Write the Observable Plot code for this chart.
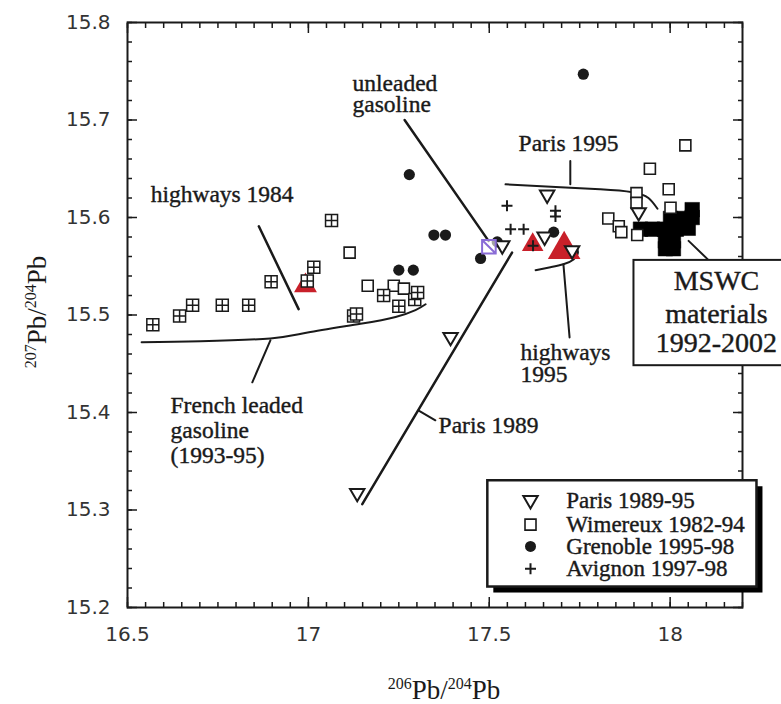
<!DOCTYPE html>
<html><head><meta charset="utf-8">
<script src="https://cdn.jsdelivr.net/npm/d3@7"></script>
<script src="https://cdn.jsdelivr.net/npm/@observablehq/plot@0.6"></script>
<style>html,body{margin:0;padding:0;background:#fff;overflow:hidden} svg{display:block;overflow:hidden}</style>
</head><body><div id="chart"></div>
<script>
// ---- tick labels ----
const xTickValues = [16.5, 17, 17.5, 18];
const yTickValues = [15.2, 15.3, 15.4, 15.5, 15.6, 15.7, 15.8];
const xMinor = d3.range(0, 35).map(i => 16.5 + i * 0.05);
const yMinor = d3.range(0, 31).map(i => 15.2 + i * 0.02);

// ---- series ----
const parisX = [17.393, 17.135, 17.660, 17.653, 17.536, 17.729, 17.913];
const parisY = [15.477, 15.317, 15.623, 15.580, 15.571, 15.566, 15.605];

const wimereuxX = [17.114, 17.164, 17.236, 17.264, 18.042, 17.944, 17.996, 17.907, 17.907, 18.001, 17.829, 17.858, 17.865, 17.909];
const wimereuxY = [15.564, 15.530, 15.530, 15.527, 15.674, 15.650, 15.629, 15.625, 15.615, 15.610, 15.599, 15.591, 15.585, 15.582];

const grenobleX = [17.347, 17.379, 17.250, 17.290, 17.279, 17.476, 17.678, 17.760, 17.522];
const grenobleY = [15.582, 15.582, 15.546, 15.546, 15.644, 15.558, 15.585, 15.747, 15.575];

const avignonX = [17.549, 17.559, 17.595, 17.621, 17.683, 17.683];
const avignonY = [15.612, 15.588, 15.588, 15.571, 15.607, 15.601];

// squares with cross (gasoline-related samples)
const gridX = [16.570, 16.644, 16.680, 16.762, 16.835, 16.897, 16.997, 17.015, 17.064, 17.125, 17.133, 17.208, 17.250, 17.294, 17.302];
const gridY = [15.490, 15.499, 15.510, 15.510, 15.510, 15.534, 15.535, 15.549, 15.597, 15.499, 15.501, 15.520, 15.509, 15.516, 15.523];

// MSWC materials 1992-2002 (filled squares)
const mswcX = [17.918, 17.951, 17.984, 18.017, 18.050, 18.001, 18.028, 18.061, 18.061, 17.987, 18.009, 17.987, 18.009];
const mswcY = [15.588, 15.588, 15.588, 15.588, 15.589, 15.599, 15.599, 15.608, 15.600, 15.576, 15.576, 15.568, 15.568];

// highways (red triangles)
const highwaysX = [16.992, 17.620, 17.707];
const highwaysY = [15.530, 15.572, 15.567];
const highwaysR = [8.5, 8, 12.1];

// unleaded gasoline
const unleadedX = [17.499];
const unleadedY = [15.570];

// ---- annotation curves / leaders (data units) ----
const frenchCurve = [[16.539,15.472],[16.702,15.473],[16.895,15.476],[16.998,15.482],[17.144,15.491],[17.241,15.498],[17.296,15.505],[17.324,15.511]];
const frenchLeader = [[16.895,15.474],[16.845,15.431]];
const paris1989Line = [[17.149,15.306],[17.563,15.564]];
const paris1989Leader = [[17.305,15.402],[17.351,15.392]];
const unleadedLeader = [[17.266,15.700],[17.498,15.576]];
const paris1995Curve = [[17.545,15.634],[17.697,15.631],[17.807,15.629],[17.896,15.626],[17.940,15.620],[17.965,15.609]];
const paris1995Leader = [[17.724,15.658],[17.724,15.634]];
const hw1995Arc = [[17.628,15.546],[17.669,15.549],[17.705,15.552],[17.733,15.557],[17.745,15.564],[17.741,15.570]];
const hw1995Leader = [[17.705,15.552],[17.722,15.477]];
const hw1984Leader = [[16.863,15.591],[16.973,15.506]];
const mswcLeader = [[18.051,15.576],[18.107,15.556]];

const annoText = ["highways 1984", "French leaded", "gasoline", "(1993-95)", "Paris 1989", "unleaded", "gasoline", "Paris 1995", "highways", "1995"];
const annoX = [16.564, 16.619, 16.619, 16.619, 17.360, 17.122, 17.122, 17.581, 17.586, 17.586];
const annoY = [15.6236, 15.407, 15.3815, 15.356, 15.3867, 15.7377, 15.7156, 15.676, 15.462, 15.439];

const mswcBox = {x1: 17.900, x2: 18.34, y1: 15.448, y2: 15.556};
const mswcText = ["MSWC", "materials", "1992-2002"];
const mswcTextY = [15.535, 15.5015, 15.4708];
const mswcTextX = 18.128;

const legendBox = {x1: 17.496, x2: 18.240, y1: 15.221, y2: 15.330};
const legendLabels = ["Paris 1989-95", "Wimereux 1982-94", "Grenoble 1995-98", "Avignon 1997-98"];
const legendY = [15.3097, 15.285, 15.2626, 15.2397];
const legendSymX = 17.614, legendTextX = 17.713;

// ---- symbols ----
const rad = size => Math.sqrt(size / Math.PI);
const triDown = {draw(c, s){ const r = rad(s); c.moveTo(-r, -0.62*r); c.lineTo(r, -0.62*r); c.lineTo(0, 1.1*r); c.closePath(); }};
const square = {draw(c, s){ const r = rad(s); c.moveTo(-r,-r); c.lineTo(r,-r); c.lineTo(r,r); c.lineTo(-r,r); c.closePath(); }};
const squarePlus = {draw(c, s){ const r = rad(s); c.moveTo(-r,-r); c.lineTo(r,-r); c.lineTo(r,r); c.lineTo(-r,r); c.closePath(); c.moveTo(0,-r); c.lineTo(0,r); c.moveTo(-r,0); c.lineTo(r,0); }};
const squareDiag = {draw(c, s){ const r = rad(s); c.moveTo(-r,-r); c.lineTo(r,-r); c.lineTo(r,r); c.lineTo(-r,r); c.closePath(); c.moveTo(-r,-r); c.lineTo(r,r); }};
const plus = {draw(c, s){ const r = rad(s); c.moveTo(-r,0); c.lineTo(r,0); c.moveTo(0,-r); c.lineTo(0,r); }};

const pts = (xs, ys) => xs.map((x, i) => ({x, y: ys[i]}));
const ink = "#1a1a1a";
const serif = "Liberation Serif";
const lineOpts = {x: d => d[0], y: d => d[1], stroke: ink, strokeWidth: 2};
const textInk = {fontFamily: serif, fill: ink, stroke: ink, strokeWidth: 0.4};

const legendSyms = [
  {symbol: triDown, r: 7.2, fill: "white", stroke: ink, strokeWidth: 2},
  {symbol: square, r: 5.5, fill: "white", stroke: ink, strokeWidth: 1.6},
  {symbol: "circle", r: 5.5, fill: ink, stroke: "none"},
  {symbol: plus, r: 5.5, fill: "none", stroke: ink, strokeWidth: 2}
];

const chart = Plot.plot({
  width: 781, height: 704,
  marginLeft: 127, marginRight: 39, marginTop: 22, marginBottom: 97,
  x: {domain: [16.5, 18.2], axis: null, label: null},
  y: {domain: [15.2, 15.8], axis: null, label: null},
  style: {background: "white", color: ink, fontFamily: serif},
  marks: [
    // ticks (inward, all four sides)
    Plot.axisX(xMinor, {anchor: "bottom", tickSize: -5, fill: "none", strokeWidth: 1.5, label: null}),
    Plot.axisX(xMinor, {anchor: "top", tickSize: -5, fill: "none", strokeWidth: 1.5, label: null}),
    Plot.axisX(xTickValues, {anchor: "bottom", tickSize: -10, fill: "none", strokeWidth: 1.5, label: null}),
    Plot.axisX(xTickValues, {anchor: "top", tickSize: -10, fill: "none", strokeWidth: 1.5, label: null}),
    Plot.axisY(yMinor, {anchor: "left", tickSize: -5, fill: "none", strokeWidth: 1.5, label: null}),
    Plot.axisY(yMinor, {anchor: "right", tickSize: -5, fill: "none", strokeWidth: 1.5, label: null}),
    Plot.axisY(yTickValues, {anchor: "left", tickSize: -10, fill: "none", strokeWidth: 1.5, label: null}),
    Plot.axisY(yTickValues, {anchor: "right", tickSize: -10, fill: "none", strokeWidth: 1.5, label: null}),
    // tick labels
    Plot.axisX(xTickValues, {anchor: "bottom", tickSize: 0, tickPadding: 19, tickFormat: d => String(d), fontSize: 20, fontFamily: "DejaVu Sans", fill: "#333", label: null}),
    Plot.axisY(yTickValues, {anchor: "left", tickSize: 0, tickPadding: 17, tickFormat: d => String(d), fontSize: 20, fontFamily: "DejaVu Sans", fill: "#333", label: null}),
    Plot.frame({stroke: ink, strokeWidth: 2}),

    // annotation curves & leaders
    Plot.line(frenchCurve, {...lineOpts, curve: "natural"}),
    Plot.line(frenchLeader, lineOpts),
    Plot.line(paris1989Line, {...lineOpts, strokeWidth: 2.5}),
    Plot.line(paris1989Leader, lineOpts),
    Plot.line(unleadedLeader, {...lineOpts, strokeWidth: 2.5}),
    Plot.line(paris1995Curve, {...lineOpts, curve: "natural"}),
    Plot.line(paris1995Leader, lineOpts),
    Plot.line(hw1995Arc, {...lineOpts, curve: "natural"}),
    Plot.line(hw1995Leader, lineOpts),
    Plot.line(hw1984Leader, {...lineOpts, strokeWidth: 2.5}),
    Plot.line(mswcLeader, lineOpts),

    // highways triangles (one mark each so the radius is a fixed pixel size)
    ...highwaysX.map((x, i) => Plot.dot([{x, y: highwaysY[i]}], {x: "x", y: "y", r: highwaysR[i], symbol: "triangle", fill: "#c8202a", stroke: "none"})),
    // MSWC
    Plot.dot(pts(mswcX, mswcY), {x: "x", y: "y", symbol: square, r: 7.3, fill: "#000", stroke: "#000", strokeWidth: 0.5}),
    // Wimereux
    Plot.dot(pts(wimereuxX, wimereuxY), {x: "x", y: "y", symbol: square, r: 5.5, fill: "white", stroke: ink, strokeWidth: 1.6}),
    // grid squares
    Plot.dot(pts(gridX, gridY), {x: "x", y: "y", symbol: squarePlus, r: 6, fill: "white", stroke: ink, strokeWidth: 1.5}),
    // Grenoble
    Plot.dot(pts(grenobleX, grenobleY), {x: "x", y: "y", symbol: "circle", r: 5.6, fill: ink, stroke: "none"}),
    // Paris
    Plot.dot(pts(parisX, parisY), {x: "x", y: "y", symbol: triDown, r: 7.2, fill: "white", stroke: ink, strokeWidth: 2}),
    // Avignon
    Plot.dot(pts(avignonX, avignonY), {x: "x", y: "y", symbol: plus, r: 5.5, fill: "none", stroke: ink, strokeWidth: 2}),
    // unleaded gasoline
    Plot.dot(pts(unleadedX, unleadedY), {x: "x", y: "y", symbol: squareDiag, r: 6.8, fill: "white", fillOpacity: 0.6, stroke: "#8a6cd6", strokeWidth: 2}),

    // annotation text
    Plot.text(annoText, {x: (d, i) => annoX[i], y: (d, i) => annoY[i], text: d => d, textAnchor: "start", fontSize: 23.5, ...textInk}),

    // MSWC box
    Plot.rect([mswcBox], {x1: "x1", x2: "x2", y1: "y1", y2: "y2", fill: "white", stroke: ink, strokeWidth: 2}),
    Plot.text(mswcText, {x: () => mswcTextX, y: (d, i) => mswcTextY[i], text: d => d, textAnchor: "middle", fontSize: 28, ...textInk}),

    // legend
    Plot.rect([legendBox], {x1: "x1", x2: "x2", y1: "y1", y2: "y2", fill: "#000", dx: 6, dy: 6}),
    Plot.rect([legendBox], {x1: "x1", x2: "x2", y1: "y1", y2: "y2", fill: "white", stroke: ink, strokeWidth: 2.5}),
    ...legendSyms.map((s, i) => Plot.dot([{x: legendSymX, y: legendY[i]}], {x: "x", y: "y", ...s})),
    Plot.text(legendLabels, {x: () => legendTextX, y: (d, i) => legendY[i], text: d => d, textAnchor: "start", fontSize: 23, ...textInk})
  ]
});
document.getElementById("chart").appendChild(chart);

// axis titles with superscripts
const svg = d3.select(chart);
function isoTitle(sel, a, b) {
  sel.append("tspan").attr("font-size", 16).attr("dy", -10).text(a);
  sel.append("tspan").attr("dy", 10).text("Pb/");
  sel.append("tspan").attr("font-size", 16).attr("dy", -10).text(b);
  sel.append("tspan").attr("dy", 10).text("Pb");
}
svg.append("text").attr("x", 444).attr("y", 699).attr("text-anchor", "middle")
  .attr("font-family", serif).attr("font-size", 27).attr("fill", ink)
  .call(t => isoTitle(t, "206", "204"));
svg.append("text").attr("transform", "translate(46,312) rotate(-90)").attr("text-anchor", "middle")
  .attr("font-family", serif).attr("font-size", 27).attr("fill", ink)
  .call(t => isoTitle(t, "207", "204"));
</script>
</body></html>
